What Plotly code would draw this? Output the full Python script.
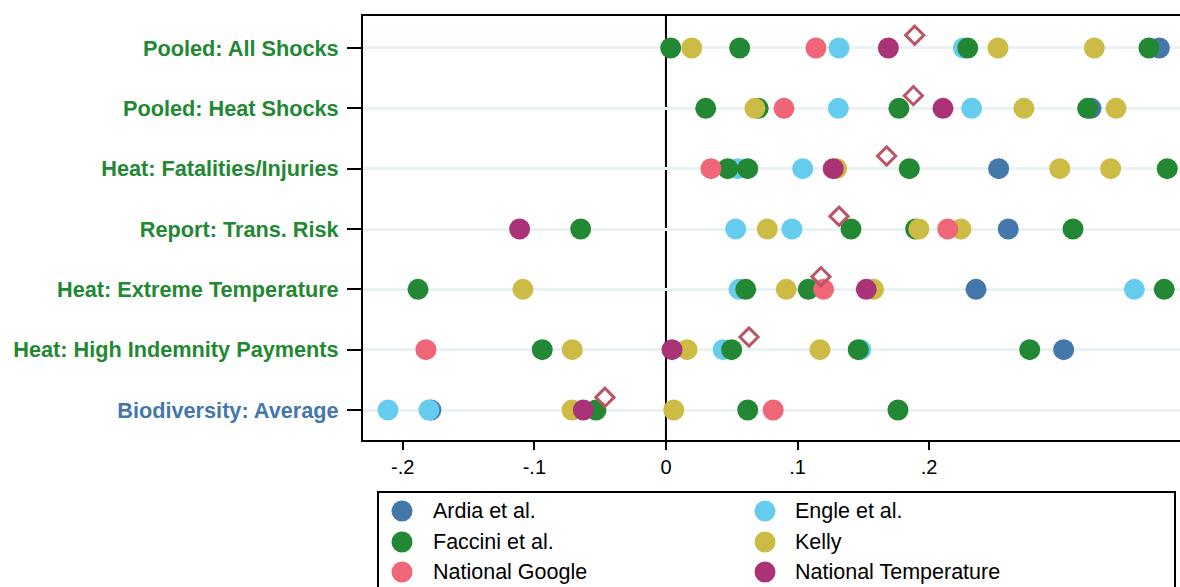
import plotly.graph_objects as go

# ---------------- data ----------------
categories = [
    "Pooled: All Shocks",
    "Pooled: Heat Shocks",
    "Heat: Fatalities/Injuries",
    "Report: Trans. Risk",
    "Heat: Extreme Temperature",
    "Heat: High Indemnity Payments",
    "Biodiversity: Average",
]
category_colors = ["#228833"] * 6 + ["#4477AA"]

series_names = ["Ardia et al.", "Engle et al.", "Faccini et al.", "Kelly",
                "National Google", "National Temperature"]
series_colors = ["#4477AA", "#66CCEE", "#228833", "#CCBB44", "#EE6677", "#AA3377"]

# per series: category of each point, value of each point
ardia_cat = categories[:]
ardia_val = [0.3749, 0.3230, 0.2528, 0.2601, 0.2356, 0.3022, -0.1786]

engle_cat = [c for c in categories for _ in range(2)]
engle_val = [0.1315, 0.2260,
             0.1310, 0.2323,
             0.0545, 0.1039,
             0.0530, 0.0957,
             0.0555, 0.3559,
             0.0435, 0.1480,
             -0.2112, -0.1801]

faccini_cat = [c for c in categories[:6] for _ in range(4)] + [categories[6]] * 3
faccini_val = [0.0036, 0.0560, 0.2293, 0.3670,
               0.0302, 0.0701, 0.1770, 0.3204,
               0.0469, 0.0621, 0.1849, 0.3809,
               -0.0648, 0.1406, 0.1897, 0.3093,
               -0.1884, 0.0606, 0.1081, 0.3786,
               -0.0940, 0.0499, 0.1461, 0.2764,
               -0.0532, 0.0621, 0.1763]

kelly_cat = [c for c in categories[:6] for _ in range(3)] + [categories[6]] * 2
kelly_val = [0.0196, 0.2523, 0.3255,
             0.0676, 0.2720, 0.3420,
             0.1297, 0.2992, 0.3379,
             0.0770, 0.1922, 0.2241,
             -0.1087, 0.0914, 0.1578,
             -0.0712, 0.0160, 0.1170,
             -0.0714, 0.0059]

google_cat = categories[:]
google_val = [0.1140, 0.0897, 0.0342, 0.2141, 0.1198, -0.1824, 0.0815]

temp_cat = categories[:]
temp_val = [0.1690, 0.2105, 0.1271, -0.1112, 0.1522, 0.0046, -0.0628]

average_cat = categories[:]
average_val = [0.1890, 0.1880, 0.1677, 0.1315, 0.1178, 0.0631, -0.0464]
average_color = "#BB5566"

x_tickvals = [-0.2, -0.1, 0, 0.1, 0.2]
x_ticktext = ["-.2", "-.1", "0", ".1", ".2"]

# ---------------- figure ----------------
W, H = 1180, 587
L, R, T, B = 363, 0, 16, 147
PW, PH = W - L - R, H - T - B
FONT = "Liberation Sans, Arial, sans-serif"
ypos = {c: len(categories) - i for i, c in enumerate(categories)}
diamond_shift = 0.21


def px_x(px):  # pixel -> paper x
    return (px - L) / PW


def px_y(py):  # pixel -> paper y
    return (H - B - py) / PH


fig = go.Figure()
series = [
    (ardia_cat, ardia_val), (engle_cat, engle_val), (faccini_cat, faccini_val),
    (kelly_cat, kelly_val), (google_cat, google_val), (temp_cat, temp_val),
]
for (cats, vals), name, col in zip(series, series_names, series_colors):
    fig.add_trace(go.Scatter(
        x=vals, y=[ypos[c] for c in cats], mode="markers", name=name,
        showlegend=False,
        marker=dict(size=21, color=col, line=dict(width=0)),
    ))

fig.add_trace(go.Scatter(
    x=average_val, y=[ypos[c] + diamond_shift for c in average_cat],
    mode="markers", name="Average", showlegend=False,
    marker=dict(symbol="diamond-open", size=14, color=average_color,
                line=dict(width=3, color=average_color)),
))

ticktext_y = [f"<b><span style='color:{col}'>{c}</span></b>"
              for c, col in zip(categories, category_colors)]

# legend (two columns, drawn as layout shapes + annotations)
shapes = [
    dict(type="line", xref="x", yref="paper", x0=0, x1=0, y0=0, y1=1,
         line=dict(color="black", width=2), layer="below"),
    dict(type="rect", xref="paper", yref="paper",
         x0=px_x(378), x1=px_x(1175), y0=px_y(640), y1=px_y(492),
         line=dict(color="black", width=2), fillcolor="rgba(0,0,0,0)", layer="above"),
]
annotations = []
col_marker_px = [402, 765]
col_text_px = [431, 793]
row_px = [511, 542, 572]
for i, (name, col) in enumerate(zip(series_names, series_colors)):
    c, r = i % 2, i // 2
    shapes.append(dict(
        type="circle", xref="paper", yref="paper", xsizemode="pixel", ysizemode="pixel",
        xanchor=px_x(col_marker_px[c]), yanchor=px_y(row_px[r]),
        x0=-10.5, x1=10.5, y0=-10.5, y1=10.5,
        fillcolor=col, line=dict(width=0), layer="above"))
    annotations.append(dict(
        xref="paper", yref="paper", x=px_x(col_text_px[c]), y=px_y(row_px[r]),
        xanchor="left", yanchor="middle", text=name, showarrow=False,
        font=dict(size=21.5, color="black", family=FONT)))

fig.update_layout(
    width=W, height=H,
    margin=dict(l=L, r=R, t=T, b=B, autoexpand=False),
    plot_bgcolor="white", paper_bgcolor="white",
    font=dict(family=FONT, color="black"),
    showlegend=False,
    xaxis=dict(
        range=[-0.2302, 0.3906], tickvals=x_tickvals, ticktext=x_ticktext,
        showgrid=False, zeroline=False,
        showline=True, linecolor="black", linewidth=2, mirror=True,
        ticks="outside", ticklen=8, tickwidth=2, tickcolor="black",
        tickfont=dict(size=20, color="black"),
    ),
    yaxis=dict(
        range=[0.503, 7.53], tickvals=[ypos[c] for c in categories], ticktext=ticktext_y,
        showgrid=True, gridcolor="#EAF2F3", gridwidth=3, zeroline=False,
        showline=True, linecolor="black", linewidth=2, mirror=False,
        ticks="outside", ticklen=14, tickwidth=2, tickcolor="black",
        tickfont=dict(size=21.7), ticklabelstandoff=4,
    ),
    shapes=shapes,
    annotations=annotations,
)

fig.write_html("out.html", config={"displayModeBar": False},
               post_script="document.body.style.margin='0px';")
